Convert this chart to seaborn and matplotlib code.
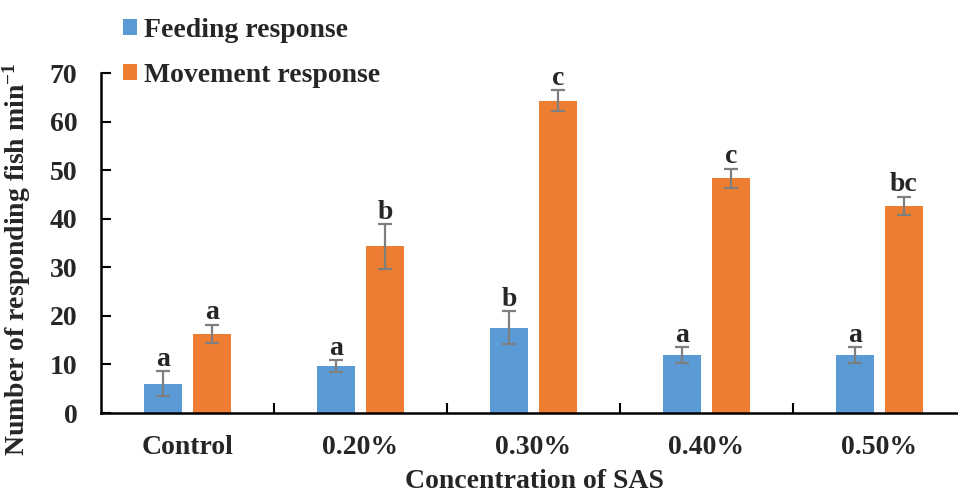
import numpy as np
import pandas as pd
import matplotlib
matplotlib.use("Agg")
import matplotlib.pyplot as plt
import seaborn as sns
from matplotlib.patches import Patch

categories = ["Control", "0.20%", "0.30%", "0.40%", "0.50%"]
series = ["Feeding response", "Movement response"]
feeding = [6.0, 9.7, 17.6, 11.9, 11.9]
feeding_err = [2.6, 1.2, 3.3, 1.6, 1.6]
movement = [16.3, 34.3, 64.3, 48.3, 42.6]
movement_err = [1.9, 4.6, 2.1, 2.0, 1.9]
feeding_letters = ["a", "a", "b", "a", "a"]
movement_letters = ["a", "b", "c", "c", "bc"]
colors = ["#5B9BD5", "#ED7D31"]

sns.set_theme(style="white")
plt.rcParams["font.family"] = ["Liberation Serif", "DejaVu Serif"]
plt.rcParams["font.weight"] = "bold"
plt.rcParams["mathtext.fontset"] = "custom"
plt.rcParams["mathtext.rm"] = "Liberation Serif:bold"
plt.rcParams["mathtext.bf"] = "Liberation Serif:bold"
plt.rcParams["mathtext.it"] = "Liberation Serif:bold"

df = pd.DataFrame({
    "Concentration": categories * 2,
    "Series": [series[0]] * 5 + [series[1]] * 5,
    "Value": feeding + movement,
})

W, H = 958, 494
fig = plt.figure(figsize=(W / 100, H / 100), dpi=100)
ax = fig.add_axes([101 / W, 81 / H, (W - 101) / W, 340 / H])

sns.barplot(data=df, x="Concentration", y="Value", hue="Series",
            palette=colors, width=0.566, gap=0.22, ax=ax, legend=False,
            errorbar=None, saturation=1, linewidth=0)

FS = 20
errs = [feeding_err, movement_err]
vals = [feeding, movement]
letters = [feeding_letters, movement_letters]
bar_containers = list(ax.containers)
for si, cont in enumerate(bar_containers):
    xs = [p.get_x() + p.get_width() / 2 for p in cont.patches]
    ax.errorbar(xs, vals[si], yerr=errs[si], fmt="none", ecolor="#7F7F7F",
                elinewidth=1.6, capsize=5, capthick=1.6, zorder=3)
    for x, v, e, t in zip(xs, vals[si], errs[si], letters[si]):
        ax.annotate(t, (x, v + e), xytext=(0, 4), textcoords="offset points",
                    ha="center", va="baseline", fontsize=FS, fontweight="bold")

ax.set_ylim(0, 70)
ax.set_xlim(-0.5, -0.5 + (W - 101) / 173)
ax.set_yticks(np.arange(0, 71, 10))
ax.set_yticklabels([str(v) for v in range(0, 71, 10)], fontsize=FS, fontweight="bold")
ax.set_xticks(range(len(categories)))
ax.set_xticklabels(categories, fontsize=FS, fontweight="bold")
ax.tick_params(axis="x", which="major", length=0, pad=16)
ax.set_xticks([0.5, 1.5, 2.5, 3.5], minor=True)
ax.tick_params(axis="x", which="minor", direction="in", length=7, width=1.5, color="black", bottom=True)
ax.tick_params(axis="y", which="major", direction="in", length=7, width=1.5,
               color="black", pad=17, left=True)

for s in ["top", "right"]:
    ax.spines[s].set_visible(False)
for s in ["left", "bottom"]:
    ax.spines[s].set_color("black")
    ax.spines[s].set_linewidth(1.8)

ax.set_xlabel("Concentration of SAS", fontsize=FS, fontweight="bold")
ax.set_ylabel(r"Number of responding fish min$^{-1}$", fontsize=FS, fontweight="bold")
ax.xaxis.set_label_coords(0.506, -0.164)
ax.yaxis.set_label_coords(-0.079, 0.453)
ax.grid(False)

handles = [Patch(facecolor=c, edgecolor="none") for c in colors]
fig.legend(handles, series, loc="upper left", bbox_to_anchor=(123 / W, 1 - 18 / H),
           frameon=False, prop={"family": "Liberation Serif", "weight": "bold", "size": FS},
           handlelength=0.5, handleheight=0.5, handletextpad=0.25, labelspacing=0.71,
           borderpad=0, borderaxespad=0)

fig.savefig("out.png", dpi=100)
